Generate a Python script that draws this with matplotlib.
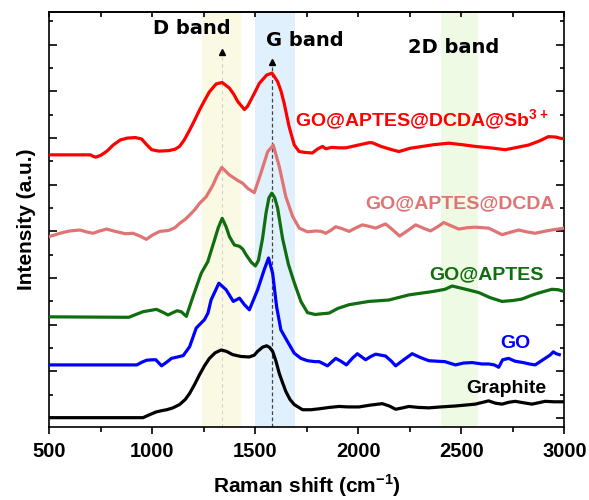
import matplotlib
matplotlib.use("Agg")
from matplotlib import pyplot as plt
from matplotlib.ticker import MultipleLocator

plt.rcParams['font.family'] = ['Liberation Sans', 'DejaVu Sans']
plt.rcParams['font.weight'] = 'bold'
plt.rcParams['mathtext.fontset'] = 'custom'
plt.rcParams['mathtext.rm'] = 'Liberation Sans:bold'
plt.rcParams['mathtext.bf'] = 'Liberation Sans:bold'

# Raman spectra (stacked, arbitrary units)
sbX = [500, 700, 712, 725, 750, 780, 810, 845, 880, 918, 948, 972, 997, 1031, 1079, 1110,
       1132, 1155, 1181, 1205, 1229, 1253, 1277, 1310, 1339, 1374, 1395, 1415, 1447, 1462,
       1479, 1500, 1519, 1555, 1581, 1608, 1625, 1640, 1664, 1689, 1713, 1745, 1777, 1800,
       1826, 1842, 1870, 1906, 1939, 1990, 2051, 2067, 2110, 2163, 2197, 2250, 2309, 2370,
       2439, 2500, 2568, 2640, 2713, 2770, 2826, 2880, 2922, 2960, 2985, 3000]
sbY = [5.64, 5.64, 5.61, 5.59, 5.63, 5.72, 5.85, 5.96, 6.00, 6.01, 5.98, 5.86, 5.75, 5.72, 5.73, 5.76,
       5.82, 5.96, 6.17, 6.38, 6.60, 6.80, 6.99, 7.16, 7.19, 7.07, 6.94, 6.78, 6.61, 6.68,
       6.82, 7.00, 7.17, 7.35, 7.39, 7.21, 7.00, 6.74, 6.24, 5.85, 5.71, 5.69, 5.68, 5.76,
       5.82, 5.77, 5.80, 5.79, 5.79, 5.84, 5.90, 5.90, 5.82, 5.75, 5.71, 5.78, 5.82, 5.86,
       5.89, 5.86, 5.82, 5.79, 5.75, 5.80, 5.85, 5.94, 6.03, 6.02, 5.99, 5.99]

dcdaX = [500, 560, 600, 649, 680, 712, 745, 778, 820, 870, 906, 940, 971, 1000, 1036, 1079,
         1110, 1132, 1160, 1181, 1205, 1229, 1261, 1294, 1315, 1337, 1374, 1415, 1439, 1463,
         1495, 1527, 1560, 1587, 1616, 1648, 1681, 1713, 1753, 1794, 1820, 1842, 1865, 1890,
         1920, 1955, 1985, 2019, 2050, 2084, 2110, 2132, 2165, 2200, 2240, 2278, 2315, 2350,
         2385, 2414, 2450, 2487, 2530, 2568, 2600, 2632, 2665, 2697, 2737, 2777, 2818, 2858,
         2900, 2938, 3000]
dcdaY = [3.89, 3.97, 4.01, 4.03, 3.99, 3.96, 4.01, 4.05, 4.00, 3.95, 3.96, 3.90, 3.83, 3.92, 4.00, 4.02,
         4.08, 4.17, 4.26, 4.35, 4.46, 4.60, 4.74, 4.99, 5.20, 5.37, 5.21, 5.09, 5.03, 4.92,
         4.83, 5.25, 5.71, 5.85, 5.39, 4.74, 4.32, 4.07, 3.99, 4.01, 4.00, 3.96, 4.02, 4.10,
         4.06, 4.00, 4.07, 4.14, 4.11, 4.07, 4.12, 4.16, 4.04, 3.90, 4.02, 4.14, 4.07, 4.01,
         4.10, 4.19, 4.12, 4.05, 4.08, 4.09, 4.08, 4.07, 4.00, 3.93, 3.98, 4.03, 3.99, 3.96,
         4.00, 4.03, 4.07]

aptesX = [500, 886, 920, 955, 1020, 1050, 1076, 1100, 1120, 1140, 1165, 1197, 1237, 1269,
          1302, 1320, 1339, 1358, 1374, 1398, 1423, 1439, 1455, 1480, 1500, 1515, 1535, 1552,
          1566, 1580, 1594, 1608, 1632, 1660, 1689, 1721, 1753, 1790, 1810, 1858, 1900, 1955,
          2051, 2148, 2245, 2358, 2420, 2455, 2503, 2540, 2584, 2640, 2697, 2750, 2793, 2840,
          2874, 2939, 2970, 3000]
aptesY = [2.17, 2.16, 2.22, 2.28, 2.33, 2.27, 2.21, 2.26, 2.30, 2.28, 2.18, 2.60, 3.10, 3.35,
          3.82, 4.08, 4.28, 4.10, 3.89, 3.71, 3.68, 3.62, 3.50, 3.34, 3.26, 3.38, 3.85, 4.40,
          4.72, 4.82, 4.72, 4.50, 3.85, 3.30, 2.90, 2.50, 2.26, 2.22, 2.23, 2.25, 2.35, 2.43,
          2.50, 2.53, 2.64, 2.71, 2.76, 2.83, 2.78, 2.74, 2.69, 2.58, 2.50, 2.52, 2.55, 2.63,
          2.68, 2.76, 2.75, 2.71]

goX = [490, 925, 950, 972, 1000, 1017, 1045, 1070, 1093, 1132, 1150, 1181, 1213, 1253, 1270,
       1285, 1323, 1358, 1393, 1423, 1447, 1471, 1511, 1543, 1564, 1584, 1603, 1624, 1656,
       1689, 1721, 1753, 1790, 1810, 1850, 1890, 1915, 1942, 1970, 1995, 2035, 2060, 2084,
       2132, 2160, 2181, 2220, 2261, 2300, 2342, 2380, 2420, 2471, 2510, 2552, 2600, 2632,
       2660, 2681, 2700, 2729, 2760, 2800, 2830, 2858, 2906, 2930, 2946, 2960, 2975]
goY = [1.14, 1.14, 1.20, 1.24, 1.25, 1.25, 1.12, 1.20, 1.28, 1.32, 1.34, 1.53, 1.93, 2.11, 2.25,
       2.53, 2.89, 2.75, 2.50, 2.57, 2.43, 2.32, 2.75, 3.18, 3.43, 3.10, 2.39, 1.89, 1.64,
       1.39, 1.28, 1.23, 1.21, 1.21, 1.12, 1.28, 1.22, 1.14, 1.28, 1.38, 1.25, 1.32, 1.37,
       1.33, 1.22, 1.12, 1.25, 1.38, 1.30, 1.23, 1.22, 1.21, 1.14, 1.18, 1.19, 1.16, 1.16,
       1.14, 1.09, 1.25, 1.28, 1.22, 1.19, 1.16, 1.14, 1.28, 1.35, 1.42, 1.38, 1.36]

graphiteX = [500, 955, 985, 1017, 1045, 1070, 1100, 1132, 1160, 1181, 1205, 1229, 1253, 1277,
             1305, 1334, 1360, 1390, 1431, 1471, 1495, 1511, 1535, 1555, 1570, 1584, 1600,
             1616, 1632, 1648, 1668, 1689, 1729, 1770, 1810, 1860, 1906, 1950, 2003, 2060,
             2116, 2150, 2181, 2215, 2245, 2290, 2342, 2400, 2471, 2520, 2568, 2632, 2665,
             2697, 2730, 2761, 2800, 2842, 2875, 2906, 2950, 3000]
graphiteY = [0.01, 0.01, 0.07, 0.13, 0.16, 0.18, 0.22, 0.29, 0.40, 0.53, 0.72, 0.93, 1.12, 1.28,
             1.40, 1.46, 1.43, 1.36, 1.32, 1.31, 1.35, 1.43, 1.52, 1.55, 1.51, 1.43, 1.22,
             0.96, 0.76, 0.57, 0.40, 0.29, 0.18, 0.18, 0.20, 0.23, 0.25, 0.24, 0.24, 0.28,
             0.31, 0.26, 0.19, 0.22, 0.25, 0.23, 0.22, 0.24, 0.26, 0.28, 0.30, 0.37, 0.32,
             0.30, 0.34, 0.36, 0.33, 0.30, 0.33, 0.36, 0.35, 0.35]

labels = ['GO@APTES@DCDA@Sb$^{3+}$', 'GO@APTES@DCDA', 'GO@APTES', 'GO', 'Graphite']
colors = ['#ff0000', '#e07474', '#106e10', '#0000ff', '#000000']
labelX = [2922, 2951, 2898, 2835, 2912]
labelY = [6.22, 4.50, 2.98, 1.51, 0.54]

bands = [(1240, 1430), (1500, 1690), (2400, 2580)]
bandColors = ['#fafae4', '#e0f0fc', '#eefae4']
bandNames = ['D band', 'G band', '2D band']
bandTextX = [1190, 1742, 2463]
bandTextY = [8.34, 8.10, 7.95]
dPos = 1339
gPos = 1579

fig = plt.figure(figsize=(5.89, 5.00), dpi=100)
ax = fig.add_axes([0.0837, 0.146, 0.8746, 0.830])

for (lo, hi), c in zip(bands, bandColors):
    ax.axvspan(lo, hi, color=c, zorder=0, lw=0)

# guide lines with small arrow heads at the D and G positions
ax.plot([dPos, dPos], [-0.2, 7.75], ls=(0, (3, 3)), color='#cfcfcf', lw=0.8, zorder=1)
ax.plot([gPos, gPos], [-0.2, 7.55], ls=(0, (3, 2)), color='#444444', lw=0.9, zorder=1)
ax.plot([dPos], [7.84], marker='^', color='black', ms=4.5, zorder=4)
ax.plot([gPos], [7.63], marker='^', color='black', ms=4.5, zorder=4)

spectra = [(sbX, sbY), (dcdaX, dcdaY), (aptesX, aptesY), (goX, goY), (graphiteX, graphiteY)]
for (xs, ys), c in zip(spectra, colors):
    ax.plot(xs, ys, color=c, lw=2.3, solid_joinstyle='round', zorder=3)

for name, c, tx, ty in zip(labels, colors, labelX, labelY):
    ax.text(tx, ty, name, color=c, fontsize=14, fontweight='bold', ha='right', va='baseline')

for name, tx, ty in zip(bandNames, bandTextX, bandTextY):
    ax.text(tx, ty, name, fontsize=14, fontweight='bold', family='DejaVu Sans',
            ha='center', va='center')

ax.set_xlim(500, 3000)
ax.set_ylim(-0.19, 8.7)
ax.xaxis.set_major_locator(MultipleLocator(500))
ax.xaxis.set_minor_locator(MultipleLocator(250))
ax.yaxis.set_major_locator(MultipleLocator(1))
ax.yaxis.set_minor_locator(MultipleLocator(0.5))
ax.tick_params(axis='x', which='major', direction='out', length=5, width=1.2, labelsize=14.5, pad=6)
ax.tick_params(axis='x', which='minor', direction='out', length=3.5, width=1.2)
ax.tick_params(axis='y', which='major', direction='in', length=6, width=1.2,
               left=True, right=True, labelleft=False)
ax.tick_params(axis='y', which='minor', direction='in', length=3, width=1.2, left=True, right=True)
top = ax.secondary_xaxis('top')
top.xaxis.set_major_locator(MultipleLocator(250))
top.tick_params(direction='in', length=3.5, width=1.2, labeltop=False)
for sp in list(ax.spines.values()) + list(top.spines.values()):
    sp.set_linewidth(1.2)

ax.set_xlabel('Raman shift (cm$^{-1}$)', fontsize=15, fontweight='bold', labelpad=8)
ax.set_ylabel('Intensity (a.u.)', fontsize=15, fontweight='bold', labelpad=6)

fig.savefig('out.png', dpi=100)
